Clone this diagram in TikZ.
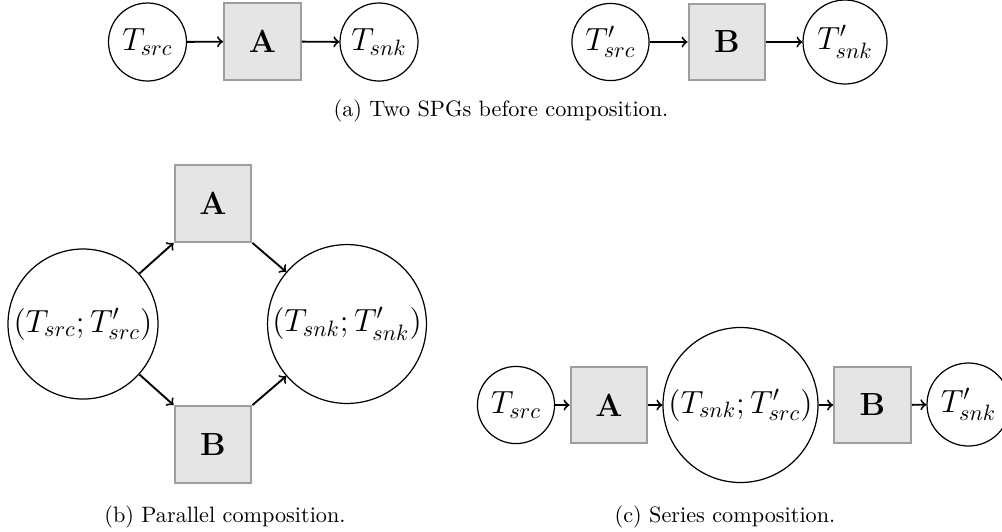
\documentclass[tikz,border=0pt]{standalone}
\usepackage{amsmath}
\begin{document}
\begin{tikzpicture}[x=0.45pt,y=-0.45pt,
  st/.style={circle,draw=black,line width=0.55pt,inner sep=1pt,font=\Large},
  op/.style={rectangle,draw=black!38,fill=black!10,line width=0.9pt,minimum size=34.6pt,inner sep=0pt,font=\Large\bfseries},
  arr/.style={->,line width=0.85pt},
  captxt/.style={font=\normalsize,anchor=base,inner sep=0pt}]
\useasboundingbox (0,0) rectangle (1002,531);
% (a)
\node[st,minimum size=35.1pt] (a1) at (147.5,42) {$T_{src}$};
\node[op] (a2) at (262.5,41.5) {A};
\node[st,minimum size=35.1pt] (a3) at (379,42) {$T_{snk}$};
\node[st,minimum size=34.7pt] (a4) at (610.5,42) {$T'_{src}$};
\node[op] (a5) at (727,42) {B};
\node[st,minimum size=37.8pt] (a6) at (845,42) {$T'_{snk}$};
\draw[arr] (a1) -- (a2);
\draw[arr] (a2) -- (a3);
\draw[arr] (a4) -- (a5);
\draw[arr] (a5) -- (a6);
\node[captxt] (capa) at (501,116) {(a) Two SPGs before composition.};
% (b)
\node[op] (bA) at (213,203.5) {A};
\node[op] (bB) at (213,444.5) {B};
\node[st,minimum size=67.5pt,inner sep=0pt] (bL) at (83,324) {$(T_{src};T'_{src})$};
\node[st,minimum size=71.5pt,inner sep=0pt] (bR) at (347,324) {$(T_{snk};T'_{snk})$};
\draw[arr] (bL) -- (bA.south west);
\draw[arr] (bL) -- (bB.north west);
\draw[arr] (bA.south east) -- (bR);
\draw[arr] (bB.north east) -- (bR);
\node[captxt] (capb) at (225,522) {(b) Parallel composition.};
% (c)
\node[st,minimum size=34.7pt] (c1) at (516,405) {$T_{src}$};
\node[op] (c2) at (609,405) {A};
\node[st,minimum size=69.75pt,inner sep=0pt] (c3) at (740.5,405) {$(T_{snk};T'_{src})$};
\node[op] (c4) at (872.5,405) {B};
\node[st,minimum size=37.35pt] (c5) at (968.5,404.5) {$T'_{snk}$};
\draw[arr] (c1) -- (c2);
\draw[arr] (c2) -- (c3);
\draw[arr] (c3) -- (c4);
\draw[arr] (c4) -- (c5);
\node[captxt] (capc) at (725,522) {(c) Series composition.};
\end{tikzpicture}
\end{document}
